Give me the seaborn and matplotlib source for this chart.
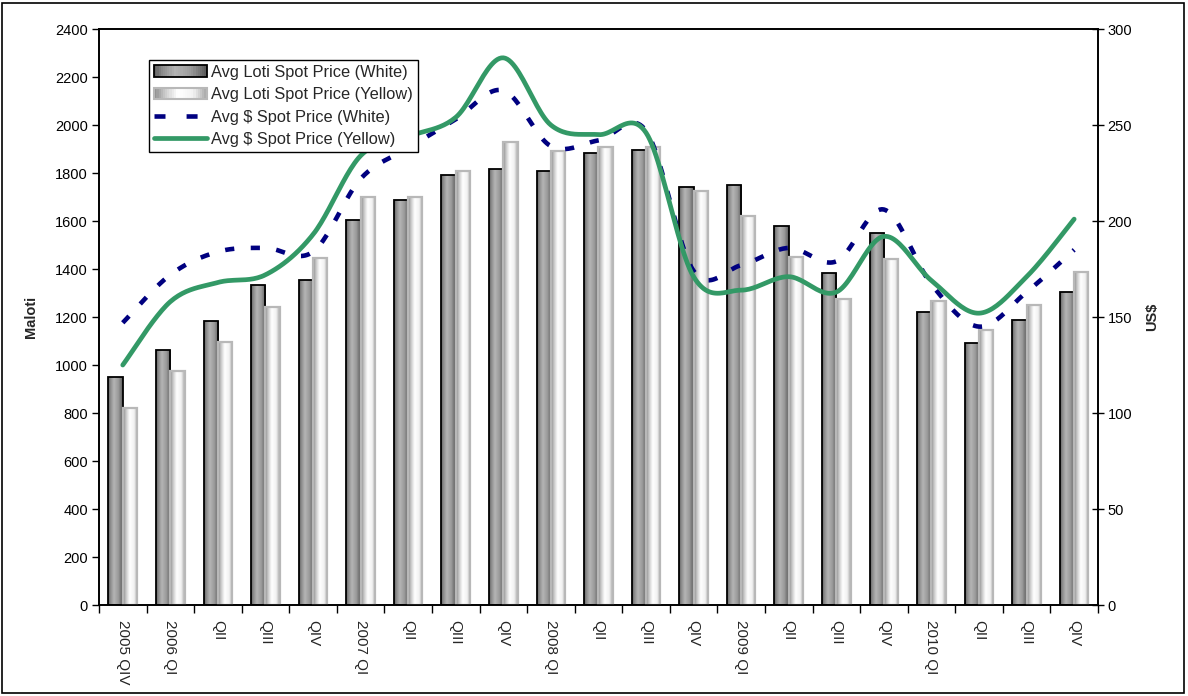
import numpy as np
import pandas as pd
import matplotlib
matplotlib.use("Agg")
import matplotlib.pyplot as plt
import seaborn as sns
from matplotlib.patches import Rectangle
from matplotlib.lines import Line2D
from matplotlib.legend_handler import HandlerBase
from matplotlib.colors import LinearSegmentedColormap

# Quarterly spot prices
periods = ["2005Q4", "2006Q1", "2006Q2", "2006Q3", "2006Q4", "2007Q1", "2007Q2",
           "2007Q3", "2007Q4", "2008Q1", "2008Q2", "2008Q3", "2008Q4", "2009Q1",
           "2009Q2", "2009Q3", "2009Q4", "2010Q1", "2010Q2", "2010Q3", "2010Q4"]
tick_labels = ["2005 QIV", "2006 QI", "QII", "QIII", "QIV", "2007 QI", "QII",
               "QIII", "QIV", "2008 QI", "QII", "QIII", "QIV", "2009 QI",
               "QII", "QIII", "QIV", "2010 QI", "QII", "QIII", "QIV"]
loti_white = [949, 1064, 1185, 1334, 1355, 1603, 1686, 1790, 1815, 1807, 1885,
              1898, 1743, 1752, 1579, 1384, 1551, 1220, 1092, 1187, 1303]
loti_yellow = [820, 974, 1095, 1242, 1445, 1700, 1700, 1808, 1930, 1892, 1909,
               1909, 1725, 1621, 1450, 1277, 1443, 1266, 1148, 1252, 1387]
usd_white = [147, 172, 184, 186, 184, 222, 238, 253, 268, 239, 242,
             247, 174, 177, 186, 179, 206, 167, 145, 163, 185]
usd_yellow = [125, 158, 168, 172, 193, 234, 244, 254, 285, 250, 245,
              246, 171, 164, 171, 163, 192, 169, 152, 171, 201]

series_names = ["Avg Loti Spot Price (White)", "Avg Loti Spot Price (Yellow)",
                "Avg $ Spot Price (White)", "Avg $ Spot Price (Yellow)"]

sns.set_theme(style="white")
plt.rcParams["font.family"] = ["Liberation Sans", "DejaVu Sans"]

bars = pd.DataFrame({
    "period": periods * 2,
    "price": loti_white + loti_yellow,
    "series": [series_names[0]] * len(periods) + [series_names[1]] * len(periods),
})

fig = plt.figure(figsize=(11.88, 6.96), dpi=100)
ax = fig.add_axes([0.0833, 0.1307, 0.8409, 0.8276])

sns.barplot(data=bars, x="period", y="price", hue="series", order=periods,
            hue_order=series_names[:2], width=0.6, gap=0, ax=ax, legend=False,
            palette=["#999999", "#eeeeee"], saturation=1)

# cylinder-style shading inside the bars
dark_cmap = LinearSegmentedColormap.from_list(
    "dark", [(0, "#5e5e5e"), (0.15, "#8a8a8a"), (0.4, "#b5b5b5"),
             (0.7, "#9a9a9a"), (1, "#5a5a5a")])
light_cmap = LinearSegmentedColormap.from_list(
    "light", [(0, "#8c8c8c"), (0.2, "#c8c8c8"), (0.45, "#ffffff"),
              (0.75, "#f2f2f2"), (1, "#a8a8a8")])
grad = np.linspace(0, 1, 64).reshape(1, -1)
n = len(periods)
for i, p in enumerate(list(ax.patches)):
    x0, y0 = p.get_x(), p.get_y()
    w, h = p.get_width(), p.get_height()
    cmap = dark_cmap if i < n else light_cmap
    im = ax.imshow(grad, cmap=cmap, extent=[x0, x0 + w, y0, y0 + h],
                   aspect="auto", zorder=2, interpolation="bilinear")
    im.set_clip_path(p)
    p.set_facecolor("none")
    p.set_zorder(3)
    if i < n:
        p.set_edgecolor("black")
        p.set_linewidth(1.3)
    else:
        p.set_edgecolor("#b8b8b8")
        p.set_linewidth(1.6)

ax.set_xlim(-0.5, n - 0.5)
ax.set_ylim(0, 2400)
ax.set_yticks(np.arange(0, 2401, 200))
ax.tick_params(axis="y", direction="out", length=5, width=1, labelsize=10.5,
               left=True, pad=3, colors="black")
ax.set_ylabel("Maloti", fontsize=10.5, fontweight="bold", labelpad=12)

# category boundaries carry the tick marks, centres carry the labels
ax.set_xticks(np.arange(-0.5, n, 1.0))
ax.set_xticklabels([])
ax.set_xticks(np.arange(n), minor=True)
ax.set_xticklabels(tick_labels, minor=True, rotation=270, fontsize=11,
                   ha="center", va="top")
ax.tick_params(axis="x", which="major", direction="out", length=6, width=1,
               bottom=True, colors="black")
ax.tick_params(axis="x", which="minor", length=0, pad=11, bottom=True)
ax.set_xlabel("")
for s in ax.spines.values():
    s.set_color("black")
    s.set_linewidth(1.2)

# second axis for US$ prices, drawn as smoothed lines
ax2 = ax.twinx()
ax2.set_ylim(0, 300)
ax2.set_yticks(np.arange(0, 301, 50))
ax2.tick_params(axis="y", direction="inout", length=8, width=1, labelsize=10.5,
                right=True, pad=3, colors="black")
ax2.set_ylabel("US$", fontsize=10.5, fontweight="bold", labelpad=9)
for s in ax2.spines.values():
    s.set_color("black")
    s.set_linewidth(1.2)


def smooth(xs, ys, steps=24):
    """Catmull-Rom curve through every point, like a spreadsheet smoothed line."""
    pts = np.column_stack([xs, ys]).astype(float)
    ext = np.vstack([pts[0], pts, pts[-1]])
    out = []
    t = np.linspace(0, 1, steps, endpoint=False)[:, None]
    for k in range(1, len(ext) - 2):
        p0, p1, p2, p3 = ext[k - 1], ext[k], ext[k + 1], ext[k + 2]
        seg = 0.5 * ((2 * p1) + (-p0 + p2) * t + (2 * p0 - 5 * p1 + 4 * p2 - p3) * t ** 2
                     + (-p0 + 3 * p1 - 3 * p2 + p3) * t ** 3)
        out.append(seg)
    out.append(pts[-1][None, :])
    c = np.vstack(out)
    return c[:, 0], c[:, 1]


dash_style = (2.0, 3.6)
xpos = np.arange(n)
gx, gy = smooth(xpos, usd_yellow)
wx, wy = smooth(xpos, usd_white)
ax2.plot(wx, wy, color="#000080", lw=3.3, dashes=dash_style, zorder=4,
         dash_capstyle="butt")
ax2.plot(gx, gy, color="#339966", lw=3.4, zorder=5, solid_capstyle="round")
ax2.grid(False)
ax.grid(False)


class GradientHandler(HandlerBase):
    def __init__(self, cmap, edge, lw):
        super().__init__()
        self.cmap, self.edge, self.lw = cmap, edge, lw

    def create_artists(self, legend, orig_handle, xdescent, ydescent, width,
                       height, fontsize, trans):
        arts = []
        k = 24
        for j in range(k):
            r = Rectangle((-xdescent + width * j / k, -ydescent), width / k + 0.3,
                          height, facecolor=self.cmap((j + 0.5) / k),
                          edgecolor="none", transform=trans)
            arts.append(r)
        arts.append(Rectangle((-xdescent, -ydescent), width, height,
                              facecolor="none", edgecolor=self.edge,
                              lw=self.lw, transform=trans))
        return arts


h_dark = Rectangle((0, 0), 1, 1)
h_light = Rectangle((0, 0), 1, 1)
h_white = Line2D([], [], color="#000080", lw=3.3, dashes=(2.4, 4.6))
h_yellow = Line2D([], [], color="#339966", lw=3.4)
leg = ax2.legend([h_dark, h_light, h_white, h_yellow], series_names,
                 handler_map={h_dark: GradientHandler(dark_cmap, "black", 1.3),
                              h_light: GradientHandler(light_cmap, "#b8b8b8", 1.5)},
                 loc="upper left", bbox_to_anchor=(0.05, 0.947), fontsize=11.8,
                 frameon=True, fancybox=False, shadow=False, framealpha=1,
                 edgecolor="black", handlelength=3.2, handleheight=0.7,
                 handletextpad=0.25, labelspacing=0.45, borderpad=0.32,
                 borderaxespad=0)
leg.get_frame().set_linewidth(1.0)
leg.set_zorder(10)

# outer border of the figure
fig.patches.append(Rectangle((0.002, 0.004), 0.995, 0.992, transform=fig.transFigure,
                             fill=False, edgecolor="black", lw=1.2))

fig.savefig("out.png", dpi=100, facecolor="white")
